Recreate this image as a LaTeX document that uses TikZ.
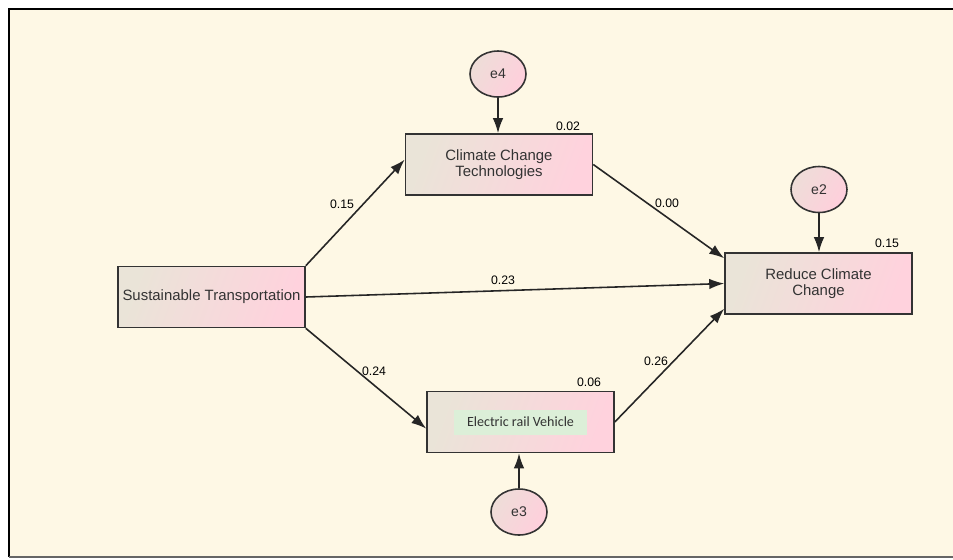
\documentclass[tikz,border=0pt]{standalone}
\usepackage{fontspec}
\setmainfont{Liberation Sans}
\newfontfamily\calibrifont{Carlito}
\usetikzlibrary{arrows.meta,shapes.geometric}

\definecolor{bgcream}{HTML}{FEF8E5}
\definecolor{boxleft}{HTML}{EAE4D8}
\definecolor{boxright}{HTML}{FFD2DD}
\definecolor{errleft}{HTML}{EEDDD8}
\definecolor{errright}{HTML}{FFCFDC}
\definecolor{labelgreen}{HTML}{DCEFD8}
\definecolor{edgegray}{HTML}{333333}

\begin{document}
\begin{tikzpicture}[x=0.02cm,y=-0.02cm,
    varbox/.style={draw=edgegray,line width=0.9pt,left color=boxleft,right color=boxright,
        shading angle=70,minimum width=3.74cm,minimum height=1.22cm,inner sep=0pt,
        align=center,text=black!80,font=\fontsize{8.5}{9.5}\selectfont},
    errnode/.style={draw=edgegray,line width=0.9pt,ellipse,left color=errleft,right color=errright,
        shading angle=60,minimum width=1.12cm,minimum height=0.92cm,inner sep=0pt,
        text=black!80,font=\fontsize{8}{9}\selectfont},
    coef/.style={font=\fontsize{7}{8}\selectfont,inner sep=1pt},
    effect/.style={draw=black!85,line width=0.9pt,-{Latex[length=3mm,width=2.1mm]}}]
    \useasboundingbox (0,0) rectangle (953,559);

    % frame
    \fill[bgcream] (9,9) rectangle (953,557);
    \draw[line width=1.6pt,black] (953,9) -- (9,9) -- (9,557);
    \draw[line width=1pt,black!60] (9,557) -- (953,557);

    % observed variables
    \node[varbox] (st) at (211.5,297) {Sustainable Transportation};
    \node[varbox] (cct) at (499,164.5) {Climate Change\\Technologies};
    \node[varbox] (erv) at (520.5,422) {};
    \node[fill=labelgreen,minimum width=2.66cm,minimum height=0.5cm,inner sep=0pt,
        text=black!80,font=\calibrifont\fontsize{8}{9}\selectfont] (ervlabel) at (erv.center) {Electric rail Vehicle};
    \node[varbox] (rcc) at (818.5,283.5) {Reduce Climate\\Change};

    % error terms
    \node[errnode] (e4) at (498,74) {e4};
    \node[errnode] (e2) at (819,189.5) {e2};
    \node[errnode] (e3) at (519,512) {e3};

    % squared multiple correlations
    \node[coef] (r2cct) at (568,126) {0.02};
    \node[coef] (r2erv) at (589,382) {0.06};
    \node[coef] (r2rcc) at (887,243) {0.15};

    % paths
    \draw[effect] (st.north east) -- (cct.177);
    \draw[effect] (cct.east) -- (rcc.165);
    \draw[effect] (st.east) -- (rcc.west);
    \draw[effect] (st.south east) -- (erv.184);
    \draw[effect] (erv.east) -- (rcc.195);
    \draw[effect] (e4.south) -- (e4.south |- cct.north);
    \draw[effect] (e2.south) -- (e2.south |- rcc.north);
    \draw[effect] (e3.north) -- (e3.north |- erv.south);

    % path coefficients
    \node[coef] (c1) at (342,204) {0.15};
    \node[coef] (c2) at (667,203) {0.00};
    \node[coef] (c3) at (503,280) {0.23};
    \node[coef] (c4) at (374,371) {0.24};
    \node[coef] (c5) at (656,361) {0.26};
\end{tikzpicture}
\end{document}
